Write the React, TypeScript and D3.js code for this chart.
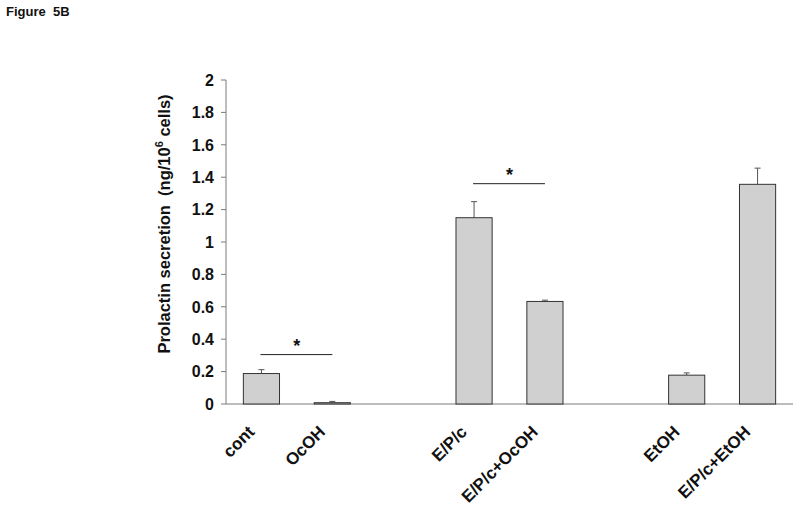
import React from "react";
import * as d3 from "d3";

const categories = ["cont", "OcOH", "E/P/c", "E/P/c+OcOH", "EtOH", "E/P/c+EtOH"];
const slots = [0, 1, 3, 4, 6, 7];
const values = [0.188, 0.008, 1.15, 0.633, 0.178, 1.356];
const errors = [0.024, 0.008, 0.099, 0.008, 0.014, 0.1];
const yTicks = [0, 0.2, 0.4, 0.6, 0.8, 1, 1.2, 1.4, 1.6, 1.8, 2];
const yTickLabels = ["0", "0.2", "0.4", "0.6", "0.8", "1", "1.2", "1.4", "1.6", "1.8", "2"];
const sigFrom = [0, 2];
const sigTo = [1, 3];
const sigLevel = [0.305, 1.36];

const W = 800;
const H = 509;
const font = "'Liberation Sans', Arial, sans-serif";

export default function App() {
  const x = d3
    .scaleBand<number>()
    .domain(d3.range(8))
    .range([226, 793])
    .paddingInner(0.49)
    .paddingOuter(0.245);
  const y = d3.scaleLinear().domain([0, 2]).range([404, 80]);
  const bw = x.bandwidth();
  const cx = (i: number) => (x(slots[i]) as number) + bw / 2;
  const axisColor = "#7a7a7a";

  return (
    <svg
      width={W}
      height={H}
      style={{ position: "absolute", left: 0, top: 0, background: "#fff" }}
      fontFamily={font}
    >
      <text x={6} y={16} fontSize={13} fontWeight="bold" fill="#111" style={{ whiteSpace: "pre" }}>
        {"Figure  5B"}
      </text>

      {/* axes */}
      <line x1={226} x2={226} y1={y(2)} y2={y(0)} stroke={axisColor} strokeWidth={1} />
      <line x1={226} x2={793} y1={y(0)} y2={y(0)} stroke={axisColor} strokeWidth={1} />
      {yTicks.map((t, i) => (
        <g key={i}>
          <line x1={221} x2={226} y1={y(t)} y2={y(t)} stroke={axisColor} strokeWidth={1} />
          <text
            x={214}
            y={y(t)}
            dy="0.36em"
            textAnchor="end"
            fontSize={16}
            fontWeight="bold"
            fill="#111"
          >
            {yTickLabels[i]}
          </text>
        </g>
      ))}

      <text
        transform={`translate(170, 224) rotate(-90)`}
        textAnchor="middle"
        fontSize={16.5}
        fontWeight="bold"
        fill="#111"
        style={{ whiteSpace: "pre" }}
      >
        {"Prolactin secretion  (ng/10"}
        <tspan dy="-7" fontSize={11}>6</tspan>
        <tspan dy="7">{" cells)"}</tspan>
      </text>

      {/* bars */}
      {values.map((v, i) => (
        <g key={i}>
          <line
            x1={cx(i)}
            x2={cx(i)}
            y1={y(v)}
            y2={y(v + errors[i])}
            stroke="#555"
            strokeWidth={1}
          />
          <line
            x1={cx(i) - 3}
            x2={cx(i) + 3}
            y1={y(v + errors[i])}
            y2={y(v + errors[i])}
            stroke="#555"
            strokeWidth={1}
          />
          <rect
            x={x(slots[i])}
            y={y(v)}
            width={bw}
            height={y(0) - y(v)}
            fill="#d0d0d0"
            stroke="#333"
            strokeWidth={1}
          />
        </g>
      ))}

      {/* category labels */}
      {categories.map((c, i) => (
        <text
          key={c}
          transform={`translate(${cx(i) - 6}, 433) rotate(-45)`}
          textAnchor="end"
          fontSize={17}
          fontWeight="bold"
          fill="#111"
        >
          {c}
        </text>
      ))}

      {/* significance */}
      {sigFrom.map((f, i) => (
        <g key={i}>
          <line
            x1={cx(f) - 1}
            x2={cx(sigTo[i])}
            y1={y(sigLevel[i])}
            y2={y(sigLevel[i])}
            stroke="#222"
            strokeWidth={1}
          />
          <text
            x={(cx(f) + cx(sigTo[i])) / 2}
            y={y(sigLevel[i]) - 3}
            textAnchor="middle"
            fontSize={18}
            fontWeight="bold"
            fill="#111"
          >
            *
          </text>
        </g>
      ))}
    </svg>
  );
}
